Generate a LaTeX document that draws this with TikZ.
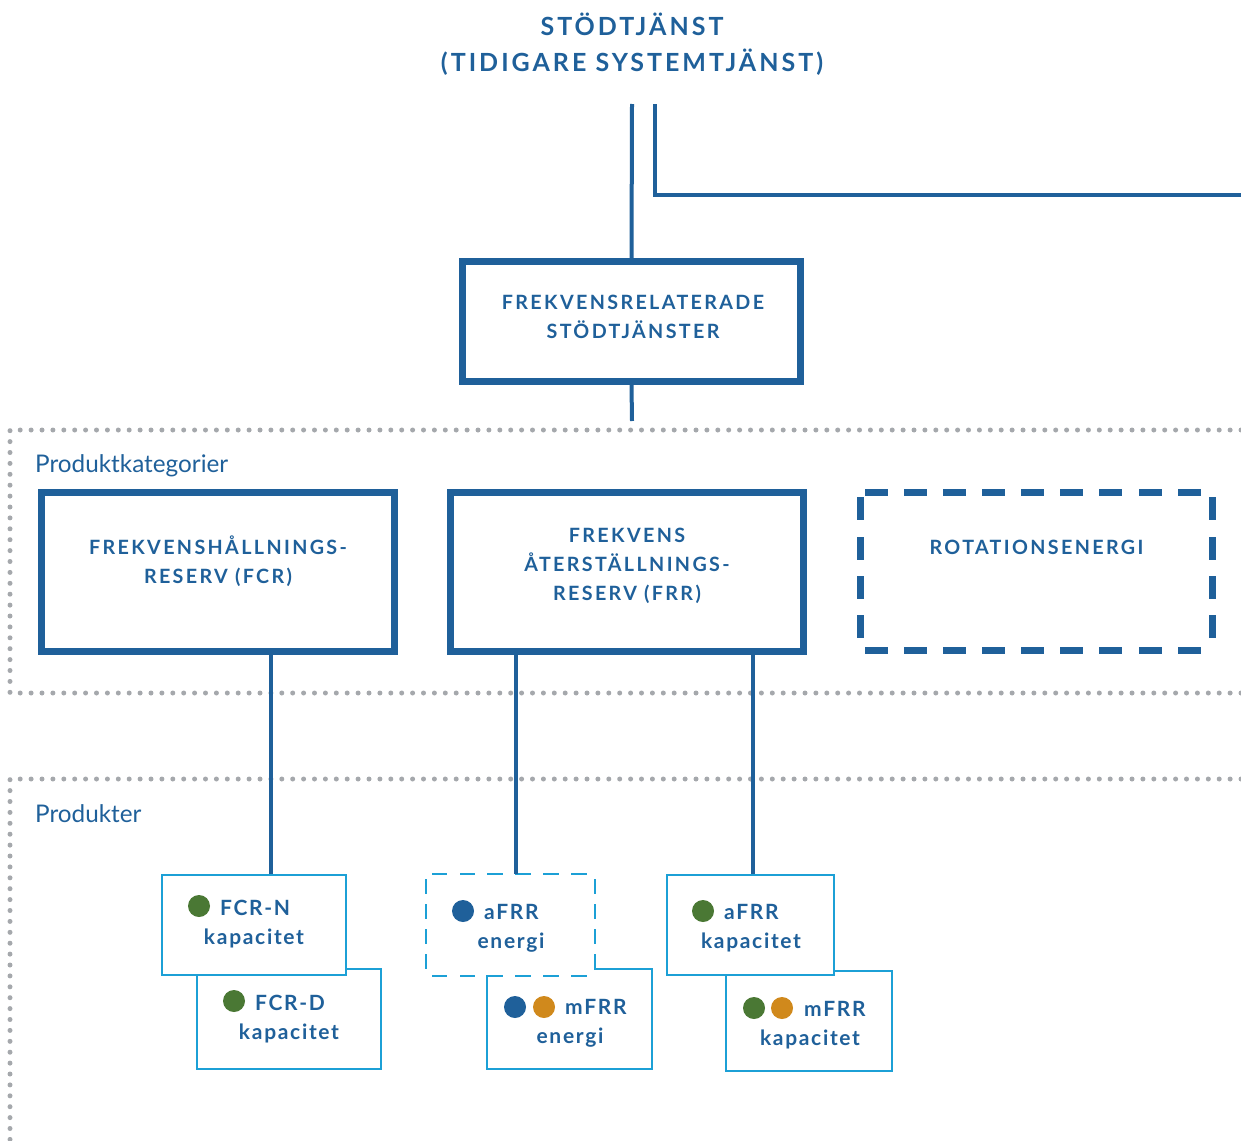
\documentclass[tikz,border=0pt]{standalone}
\usepackage{fontspec}
\setmainfont{Lato}
\newfontfamily\spaced[LetterSpace=12]{Lato}
\newfontfamily\spacedprod[LetterSpace=8]{Lato}
\definecolor{navy}{RGB}{31,96,154}
\definecolor{sky}{RGB}{28,160,214}
\definecolor{dotgray}{RGB}{165,168,172}
\definecolor{leaf}{RGB}{74,120,52}
\definecolor{amber}{RGB}{208,137,28}
\tikzset{
  heading/.style={text=navy, inner sep=0pt, anchor=base, font=\spaced\bfseries\fontsize{25}{30}\selectfont},
  boxlabel/.style={text=navy, inner sep=0pt, anchor=base, font=\spaced\bfseries\fontsize{19.7}{29}\selectfont},
  prodlabel/.style={text=navy, inner sep=0pt, font=\spacedprod\bfseries\fontsize{21}{29}\selectfont},
  zonelabel/.style={text=navy, inner sep=0pt, anchor=base west, font=\fontsize{24.3}{28}\selectfont},
  link/.style={draw=navy, line width=4pt},
  mainbox/.style={draw=navy, line width=7pt, minimum width=338pt, minimum height=120pt, inner sep=0pt},
  catbox/.style={draw=navy, line width=7pt, minimum width=353pt, minimum height=159pt, inner sep=0pt},
  % dashed frames are drawn side by side so that every corner gets an L-shaped piece
  bigdash/.style={draw=navy, line width=7pt, line cap=rect},
  bigdashh/.style={bigdash, dash pattern=on 16pt off 23.1pt, dash phase=-8pt},
  bigdashv/.style={bigdash, dash pattern=on 16pt off 23.25pt, dash phase=-8pt},
  prodbox/.style={draw=sky, fill=white, line width=2pt, minimum height=100pt, inner sep=0pt},
  smalldash/.style={draw=sky, line width=2pt, line cap=rect},
  smalldashh/.style={smalldash, dash pattern=on 13.5pt off 14.35pt, dash phase=-6.75pt},
  smalldashv/.style={smalldash, dash pattern=on 13pt off 12pt, dash phase=-6.5pt},
  marker/.style={circle, inner sep=0pt, minimum size=22pt},
  zoneline/.style={draw=dotgray, line width=5pt, line cap=round, dash pattern=on 0pt off 10.9pt},
}
\begin{document}
\begin{tikzpicture}[x=1pt,y=-1pt]
\useasboundingbox (0,0) rectangle (1241,1140);

% Title
\node[heading] (title1) at (632,36) {STÖDTJÄNST};
\node[heading] (title2) at (632,71) {(TIDIGARE SYSTEMTJÄNST)};

% Zone frames
\draw[zoneline] (1241,430) -- (10,430) -- (10,693) -- (1241,693);
\draw[zoneline] (1241,779) -- (10,779) -- (10,1140);
\node[zonelabel] (zone1) at (35,472) {Produktkategorier};
\node[zonelabel] (zone2) at (35,822) {Produkter};

% Top level box
\node[mainbox] (frsd) at (631.5,321.5) {};
\node[boxlabel] (frsd1) at (633,309) {FREKVENSRELATERADE};
\node[boxlabel] (frsd2) at (633,338) {STÖDTJÄNSTER};

\coordinate (top1) at (632,104);
\coordinate (top2) at (655,104);
\coordinate (bend) at (655,195);
\coordinate (rightend) at (1241,195);
\coordinate (stub) at (632,421);
\draw[link] (top1) -- (frsd.north);
\draw[link] (top2) -- (bend) -- (rightend);
\draw[link] (frsd.south) -- (stub);

% Product categories
\node[catbox] (fcr) at (218,572) {};
\node[boxlabel] (fcr1) at (218,554) {FREKVENSHÅLLNINGS-};
\node[boxlabel] (fcr2) at (218,583) {RESERV (FCR)};

\node[catbox] (frr) at (627,572) {};
\node[boxlabel] (frr1) at (627,542) {FREKVENS};
\node[boxlabel] (frr2) at (627,571) {ÅTERSTÄLLNINGS-};
\node[boxlabel] (frr3) at (627,600) {RESERV (FRR)};

\node[inner sep=0pt, minimum width=352pt, minimum height=157pt] (rot) at (1036.5,571.5) {};
\draw[bigdashh] (rot.north west) -- (rot.north east);
\draw[bigdashh] (rot.south west) -- (rot.south east);
\draw[bigdashv] (rot.north west) -- (rot.south west);
\draw[bigdashv] (rot.north east) -- (rot.south east);
\node[boxlabel] (rot1) at (1036.5,554) {ROTATIONSENERGI};

% Products (lower boxes first, overlapping ones on top)
\node[prodbox, minimum width=184pt] (fcrd) at (289,1019) {};
\node[prodbox, minimum width=184pt] (fcrn) at (254,925) {};
\node[prodbox, minimum width=165pt] (mfrre) at (569.5,1019) {};
\node[prodbox, draw=none, minimum width=167pt] (afrre) at (510.5,924.5) {};
\draw[smalldashh] (afrre.north west) -- (afrre.north east);
\draw[smalldashh] (afrre.south west) -- (afrre.south east);
\draw[smalldashv] (afrre.north west) -- (afrre.south west);
\draw[smalldashv] (afrre.north east) -- (afrre.south east);
\node[prodbox, minimum width=166pt] (mfrrk) at (809,1021) {};
\node[prodbox, minimum width=167pt] (afrrk) at (750.5,925) {};

% FCR-N
\node[marker, fill=leaf] (fcrnm) at (199,906) {};
\node[prodlabel, anchor=base west] (fcrn1) at (220,915) {FCR-N};
\node[prodlabel, anchor=base] (fcrn2) at (254,944) {kapacitet};
% FCR-D
\node[marker, fill=leaf] (fcrdm) at (234,1001) {};
\node[prodlabel, anchor=base west] (fcrd1) at (255,1010) {FCR-D};
\node[prodlabel, anchor=base] (fcrd2) at (289,1039) {kapacitet};
% aFRR energi
\node[marker, fill=navy] (afrrem) at (463,911) {};
\node[prodlabel, anchor=base west] (afrre1) at (484,919) {aFRR};
\node[prodlabel, anchor=base] (afrre2) at (511,948) {energi};
% mFRR energi
\node[marker, fill=navy] (mfrrem1) at (515,1007) {};
\node[marker, fill=amber] (mfrrem2) at (544,1007) {};
\node[prodlabel, anchor=base west] (mfrre1) at (565,1014) {mFRR};
\node[prodlabel, anchor=base] (mfrre2) at (570,1043) {energi};
% aFRR kapacitet
\node[marker, fill=leaf] (afrrkm) at (703,911) {};
\node[prodlabel, anchor=base west] (afrrk1) at (724,919) {aFRR};
\node[prodlabel, anchor=base] (afrrk2) at (751,948) {kapacitet};
% mFRR kapacitet
\node[marker, fill=leaf] (mfrrkm1) at (754,1008) {};
\node[marker, fill=amber] (mfrrkm2) at (782,1008) {};
\node[prodlabel, anchor=base west] (mfrrk1) at (804,1016) {mFRR};
\node[prodlabel, anchor=base] (mfrrk2) at (810,1045) {kapacitet};

% Category to product connectors
\draw[link] ([xshift=53pt]fcr.south) -- ([xshift=17pt]fcrn.north);
\draw[link] ([xshift=-111pt]frr.south) -- ([xshift=5.5pt]afrre.north);
\draw[link] ([xshift=126pt]frr.south) -- ([xshift=2.5pt]afrrk.north);
\end{tikzpicture}
\end{document}
